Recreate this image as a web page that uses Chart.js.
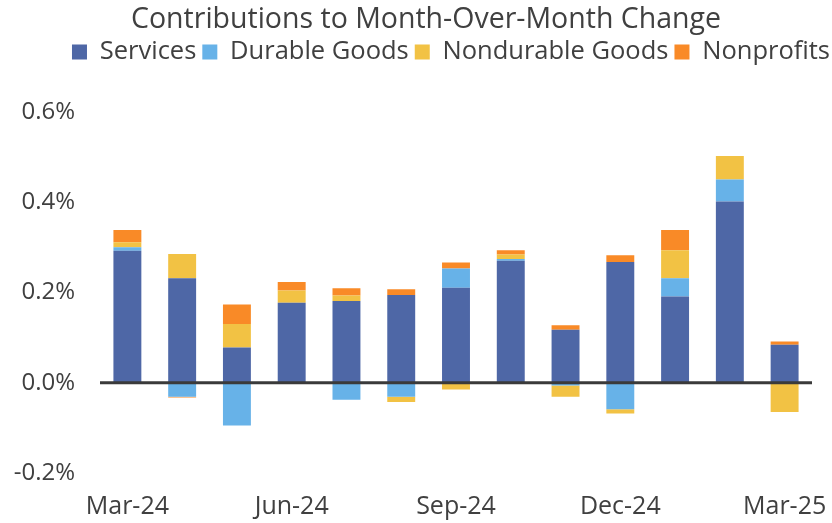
<!DOCTYPE html>
<html>
<head>
<meta charset="utf-8">
<script src="https://cdn.jsdelivr.net/npm/chart.js@4"></script>
<style>
  html, body { margin: 0; padding: 0; background: #fff; }
  #wrap { width: 832px; height: 523px; }
</style>
</head>
<body>
<div id="wrap"><canvas id="chart" width="832" height="523"></canvas></div>
<script>
// Months shown on the x axis
const months = ['Mar-24', 'Apr-24', 'May-24', 'Jun-24', 'Jul-24', 'Aug-24', 'Sep-24',
    'Oct-24', 'Nov-24', 'Dec-24', 'Jan-25', 'Feb-25', 'Mar-25'];

// Contributions, percentage points
const services   = [0.292, 0.231, 0.078, 0.177, 0.181, 0.194, 0.210, 0.270, 0.117, 0.267, 0.191, 0.401, 0.084];
const durable    = [0.008, -0.031, -0.095, 0.000, -0.038, -0.031, 0.043, 0.004, -0.006, -0.059, 0.040, 0.049, -0.002];
const nondurable = [0.011, 0.054, 0.052, 0.027, 0.012, -0.012, -0.015, 0.010, -0.025, -0.009, 0.062, 0.052, -0.063];
const nonprofits = [0.027, -0.002, 0.043, 0.019, 0.016, 0.013, 0.013, 0.009, 0.010, 0.015, 0.045, -0.002, 0.007];

const yTicks = [-0.2, 0.0, 0.2, 0.4, 0.6];

const textColor = '#404040';
const fontFamily = "'Open Sans', 'Noto Sans', sans-serif";

// Push the plot down below the legend
const legendGap = {
    id: 'legendGap',
    beforeInit(chart) {
        const fit = chart.legend.fit;
        chart.legend.fit = function () {
            fit.bind(chart.legend)();
            this.height += 33;
        };
    }
};

// Title and legend are not centred on the plot in the original
const headerShift = {
    id: 'headerShift',
    afterLayout(chart) {
        const t = chart.titleBlock;
        t.left += 20; t.right += 20;
        const l = chart.legend;
        l.left += 45; l.right += 45;
        l.top -= 4; l.bottom -= 4;
    }
};

// Dark zero line drawn over the bars
const zeroLine = {
    id: 'zeroLine',
    afterDatasetsDraw(chart) {
        const { ctx, chartArea, scales } = chart;
        const y = scales.y.getPixelForValue(0);
        ctx.save();
        ctx.strokeStyle = '#3a3a3a';
        ctx.lineWidth = 3;
        ctx.beginPath();
        ctx.moveTo(chartArea.left, y);
        ctx.lineTo(chartArea.right, y);
        ctx.stroke();
        ctx.restore();
    }
};

const ctx = document.getElementById('chart').getContext('2d');
new Chart(ctx, {
    type: 'bar',
    data: {
        labels: months,
        datasets: [
            { label: 'Services', data: services, backgroundColor: '#4E67A6' },
            { label: 'Durable Goods', data: durable, backgroundColor: '#67B2E8' },
            { label: 'Nondurable Goods', data: nondurable, backgroundColor: '#F2C244' },
            { label: 'Nonprofits', data: nonprofits, backgroundColor: '#F98A27' }
        ]
    },
    options: {
        responsive: false,
        animation: false,
        layout: { padding: { left: 0, right: 20, top: 0, bottom: 0 } },
        datasets: {
            bar: { barPercentage: 1, categoryPercentage: 0.51, borderWidth: 0 }
        },
        plugins: {
            title: {
                display: true,
                text: 'Contributions to Month-Over-Month Change',
                color: textColor,
                font: { family: fontFamily, size: 28.5, weight: 'normal' },
                padding: { top: 3, bottom: 0 }
            },
            legend: {
                display: true,
                labels: {
                    color: textColor,
                    font: { family: fontFamily, size: 25.5 },
                    boxWidth: 15,
                    boxHeight: 15,
                    padding: 6
                }
            },
            tooltip: { enabled: false }
        },
        scales: {
            x: {
                stacked: true,
                grid: { display: false, drawTicks: false },
                border: { display: false },
                afterFit: function (scale) {
                    scale.height = 50;
                    scale.paddingRight = 0;
                },
                ticks: {
                    autoSkip: false,
                    maxRotation: 0,
                    padding: 19,
                    color: textColor,
                    font: { family: fontFamily, size: 25 },
                    callback: function (value, index) {
                        return index % 3 === 0 ? months[index] : '';
                    }
                }
            },
            y: {
                stacked: true,
                min: -0.2,
                max: 0.6,
                afterBuildTicks: function (scale) {
                    scale.ticks = yTicks.map(v => ({ value: v }));
                },
                afterFit: function (scale) {
                    scale.width = 100;
                },
                grid: { display: false, drawTicks: false },
                border: { display: false },
                ticks: {
                    padding: 25,
                    color: textColor,
                    font: { family: fontFamily, size: 24 },
                    callback: v => v.toFixed(1) + '%'
                }
            }
        }
    },
    plugins: [legendGap, headerShift, zeroLine]
});
</script>
</body>
</html>
